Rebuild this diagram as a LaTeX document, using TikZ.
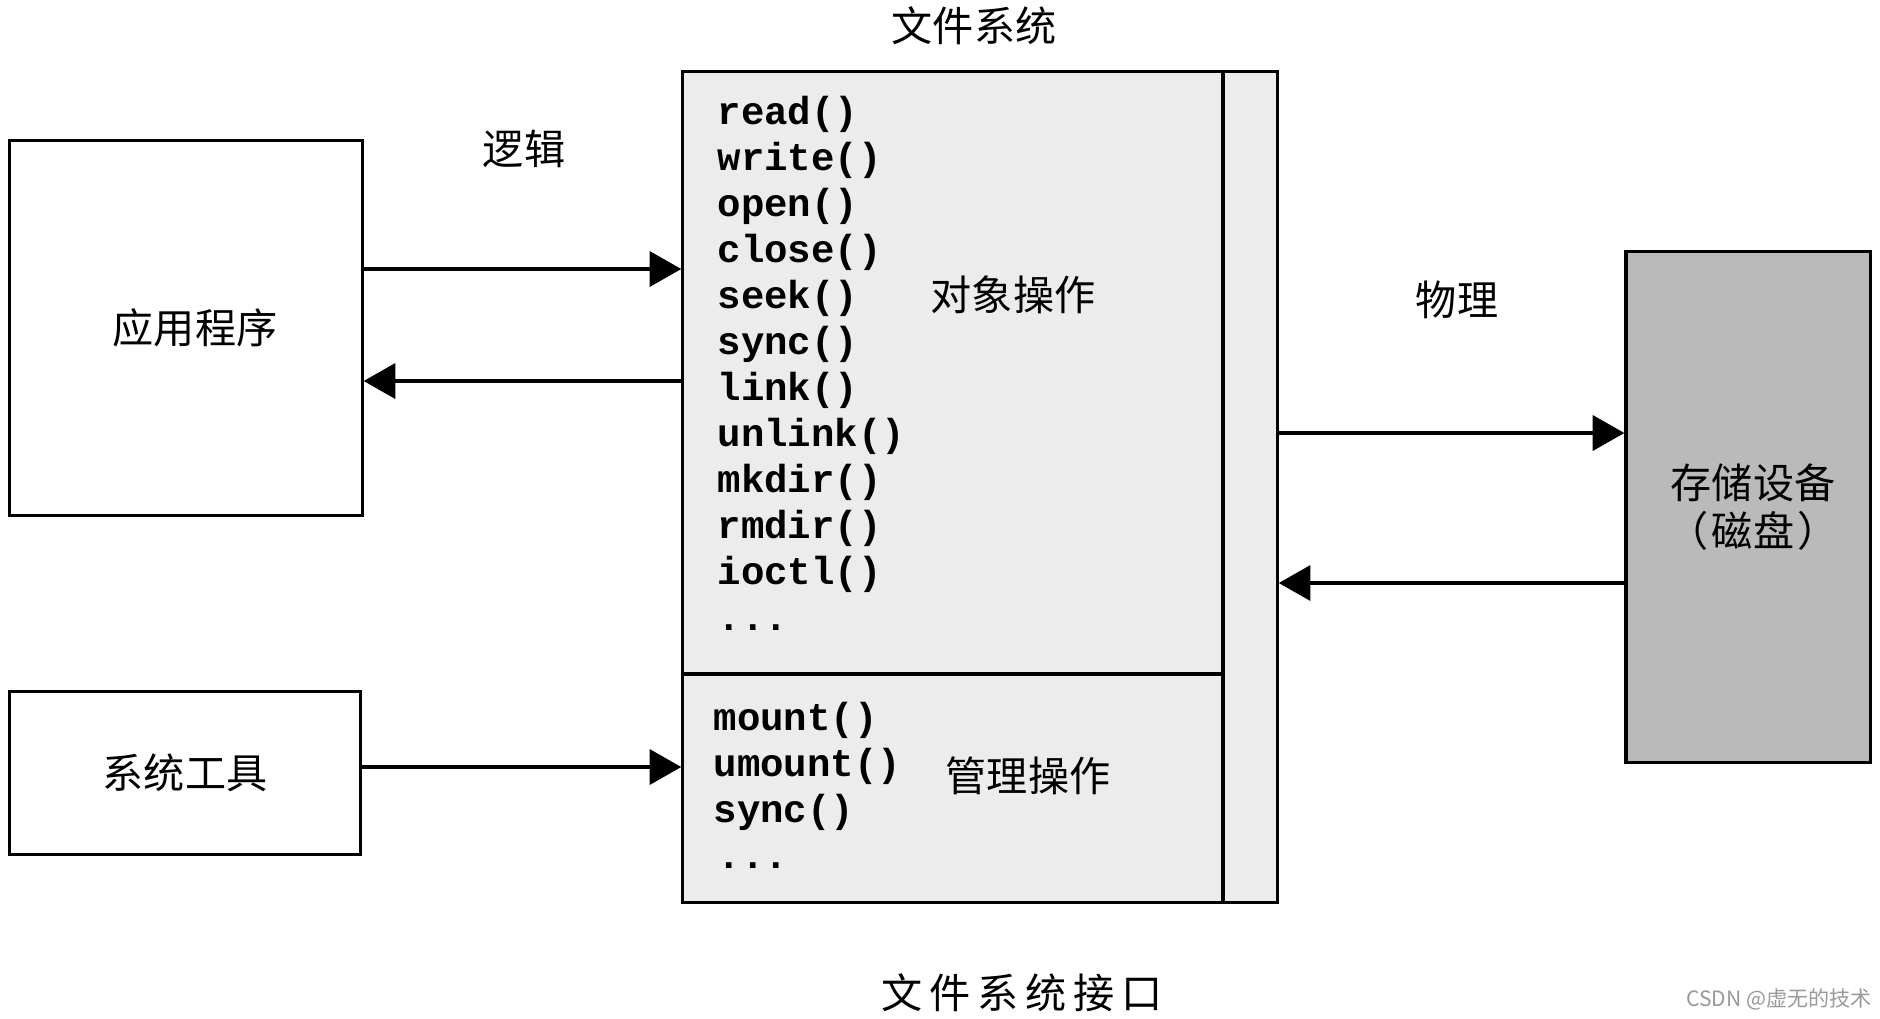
\documentclass[tikz,border=0pt]{standalone}
\usepackage{fontspec}
\usepackage{xcolor}
\usepackage{tikz}
\usetikzlibrary{arrows.meta}
\newfontfamily\cjk{Noto Sans CJK SC}
\newfontfamily\codefont{Liberation Mono}

\begin{document}
\begin{tikzpicture}[
			     x=0.01cm, y=-0.01cm,
			     box/.style={draw, line width=0.9pt, inner sep=0pt},
			     arr/.style={-{Triangle[length=9pt,width=10pt]}, line width=0.9pt},
			     cjklabel/.style={font=\cjk\fontsize{11.7}{13.7}\selectfont, inner sep=0pt},
			     ops/.style={font=\codefont\bfseries\fontsize{11.1}{13}\selectfont, anchor=base west, inner sep=0pt}
			     ]
\useasboundingbox (0,0) rectangle (1880,1018);
% boxes
\node[box, cjklabel, minimum width=3.52cm, minimum height=3.74cm] (app) at (186,328) {\kern0.18cm 应用程序};
\node[box, cjklabel, minimum width=3.50cm, minimum height=1.63cm] (tools) at (185,773) {系统工具};
\node[box, fill=gray!15, minimum width=5.94cm, minimum height=8.30cm] (fs) at (980,487) {};
\node[box, cjklabel, fill=black!27, align=center, minimum width=2.44cm, minimum height=5.11cm] (disk) at (1748,507) {\kern0.1cm 存储设备\\\kern0.1cm （\kern1pt 磁盘\kern1pt ）};
\coordinate (strip) at (1223,674);
\draw[line width=0.9pt] (fs.north -| strip) -- (fs.south -| strip);
\draw[line width=0.9pt] (fs.west |- strip) -- (strip);
% function lists
\foreach \fn [count=\i from 0] in {read(),write(),open(),close(),seek(),sync(),link(),unlink(),mkdir(),rmdir(),ioctl()}
  \node[ops] (op\i) at (717,{124+46*\i}) {\fn};
\node[ops] (opmore) at (717,630) {.{}.{}.};
\foreach \fn [count=\i from 0] in {mount(),umount(),sync()}
  \node[ops] (mg\i) at (713,{730+46*\i}) {\fn};
\node[ops] (mgmore) at (717,868) {.{}.{}.};
% labels
\node[cjklabel] (fstitle) at (974,26) {文件系统};
\node[cjklabel] (logic) at (524,149) {逻辑};
\node[cjklabel] (phys) at (1457,300) {物理};
\node[cjklabel] (objops) at (1013,295) {对象操作};
\node[cjklabel] (mgops) at (1028,776) {管理操作};
\node[cjklabel] (fsif) at (1022,993) {文\kern2pt 件\kern2pt 系\kern2pt 统\kern2pt 接\kern2pt 口};
\node[font=\cjk\fontsize{6}{7}\selectfont, text=gray!80, inner sep=0pt] (mark) at (1779,999) {CSDN @虚无的技术};
% connectors
\coordinate (lA) at (0,269);
\coordinate (lB) at (0,381);
\coordinate (lC) at (0,433);
\coordinate (lD) at (0,583);
\coordinate (lE) at (0,767);
\path (app.east |- lA) edge[arr] (fs.west |- lA);
\path (fs.west |- lB) edge[arr] (app.east |- lB);
\path (fs.east |- lC) edge[arr] (disk.west |- lC);
\path (disk.west |- lD) edge[arr] (fs.east |- lD);
\path (tools.east |- lE) edge[arr] (fs.west |- lE);
\end{tikzpicture}
\end{document}
